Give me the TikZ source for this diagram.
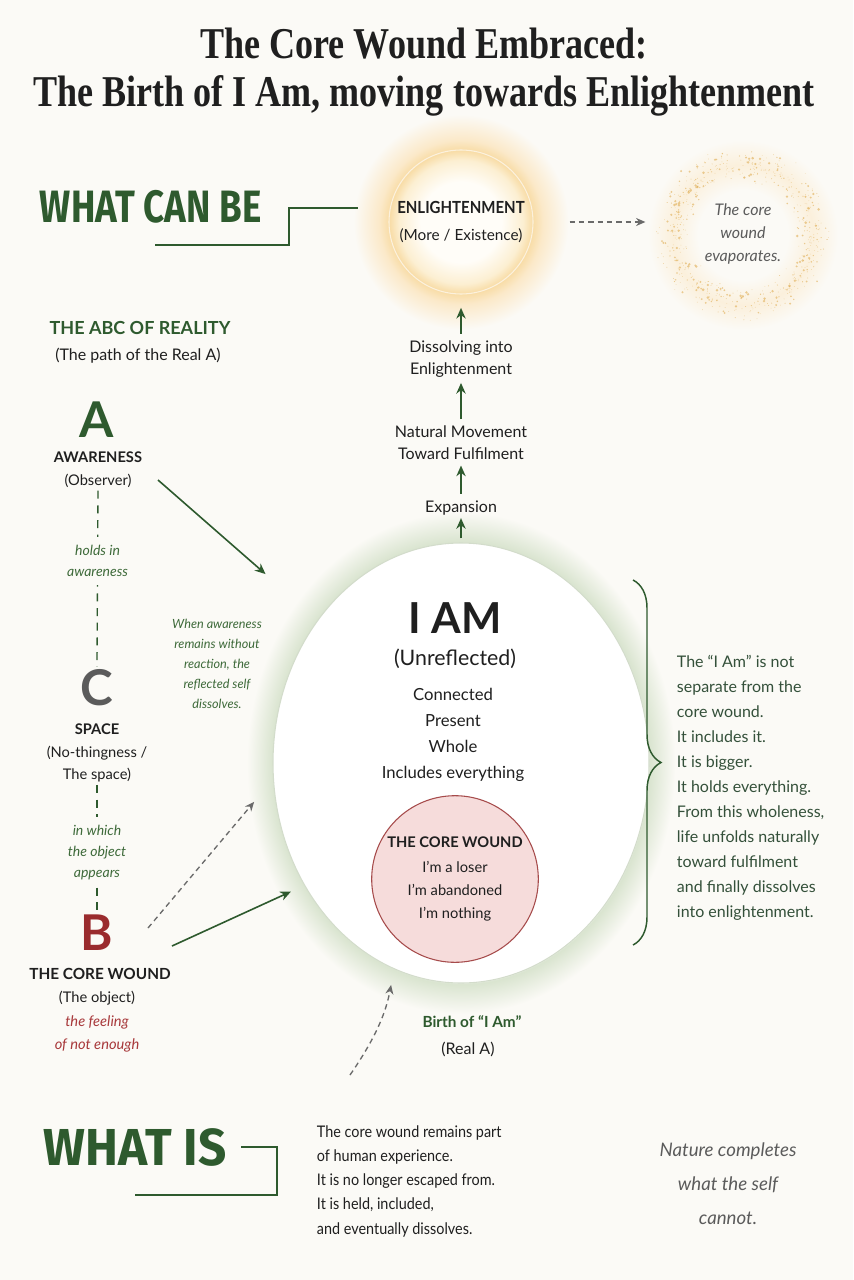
\documentclass[tikz,border=0pt]{standalone}
\usepackage{fontspec}
\setmainfont{Lato}
\newfontfamily\titlefont[FakeStretch=0.82]{Liberation Serif}
\newfontfamily\headfont[FakeStretch=0.81]{Fira Sans}
\newfontfamily\wideheadfont[FakeStretch=0.95]{Fira Sans}
\newfontfamily\narrowfont[FakeStretch=0.9]{Lato}
\usetikzlibrary{arrows.meta,positioning,shapes.geometric,decorations.pathreplacing}

\definecolor{bg}{HTML}{FBFAF6}
\definecolor{ink}{HTML}{1F1F1F}
\definecolor{leaf}{HTML}{2E5A2E}
\definecolor{leafsoft}{HTML}{3E6A3A}
\definecolor{leafnote}{HTML}{34503A}
\definecolor{leafline}{HTML}{D3DCCB}
\definecolor{leafhaze}{HTML}{D9E4CF}
\definecolor{wound}{HTML}{9A2B2E}
\definecolor{woundsoft}{HTML}{A8393B}
\definecolor{corefill}{HTML}{F6DCDB}
\definecolor{coreline}{HTML}{A64B4B}
\definecolor{stone}{HTML}{5B5B5B}
\definecolor{ash}{HTML}{6A6A6A}
\definecolor{sand}{HTML}{E0AE55}
\definecolor{suncore}{HTML}{FFFDF8}
\definecolor{sunmid}{HTML}{FCEFD2}
\definecolor{sunring}{HTML}{F8DCA6}
\definecolor{sunhalo}{HTML}{FBE9C9}
\definecolor{sunedge}{HTML}{FCF1DD}
\definecolor{hazering}{HTML}{FBF0DC}

\pgfdeclareradialshading{sunglow}{\pgfpoint{0bp}{0bp}}{color(0bp)=(suncore); color(9bp)=(suncore); color(13.8bp)=(sunmid); color(16bp)=(sunring); color(18.3bp)=(sunhalo); color(24bp)=(bg); color(50bp)=(bg)}
\pgfdeclareradialshading{leafglow}{\pgfpoint{0bp}{0bp}}{color(0bp)=(white); color(21.6bp)=(white); color(21.8bp)=(leafhaze); color(24.8bp)=(bg); color(50bp)=(bg)}
\pgfdeclareradialshading{haze}{\pgfpoint{0bp}{0bp}}{color(0bp)=(bg); color(10.7bp)=(bg); color(16.7bp)=(hazering); color(22.6bp)=(bg); color(50bp)=(bg)}

\begin{document}
\begin{tikzpicture}[
    x=0.75pt, y=-0.75pt,
    every node/.style={inner sep=2pt, text=ink},
    heading/.style={font=\headfont\bfseries\fontsize{34}{34}\selectfont, text=leaf},
    bigletter/.style={font=\bfseries\fontsize{37}{37}\selectfont},
    tagline/.style={font=\bfseries\fontsize{11}{16}\selectfont, align=center},
    gloss/.style={font=\fontsize{11}{16.5}\selectfont, align=center},
    remark/.style={font=\itshape\fontsize{10.5}{16}\selectfont, text=leafsoft, align=center},
    stack/.style={font=\fontsize{12}{16.5}\selectfont, align=center},
    frame/.style={draw=leaf, line width=1.2pt},
    spine/.style={draw=leaf, line width=1pt, dash pattern=on 6pt off 5pt},
    leafarrow/.style={draw=leaf, line width=1.2pt, -{Stealth[length=8pt,width=7pt]}},
    ashdash/.style={draw=ash, line width=1pt, dash pattern=on 4pt off 3pt, -{Stealth[length=7pt,width=6pt]}}
]
\fill[bg] (0,0) rectangle (853,1280);
\useasboundingbox (0,0) rectangle (853,1280);

% soft glows behind the shapes
\shade[shading=sunglow] (461,222) circle (112);
\shade[shading=haze] (743,235) circle (105);
\shade[shading=leafglow] (461,763) ellipse (216 and 253);

\node[font=\titlefont\bfseries\fontsize{33}{36}\selectfont, align=center] (title) at (424,72)
    {The Core Wound Embraced:\\The Birth of I Am, moving towards Enlightenment};

% what can be
\node[circle, minimum size=108pt, draw=sunedge, line width=0.8pt, align=center,
    font=\fontsize{11.5}{20}\selectfont] (enl) at (461,222)
    {{\narrowfont\bfseries\fontsize{12.5}{20}\selectfont ENLIGHTENMENT}\\(More / Existence)};
\node[heading, anchor=west] (whatcanbe) at (37,207) {WHAT CAN BE};
\coordinate (canbeFoot) at (155,245);
\coordinate (canbeStep) at (289,208);
\draw[frame] (canbeFoot) -| (canbeStep) -- ([xshift=-23pt]enl.west |- canbeStep);

\node[circle, minimum size=112pt, align=center, text=stone,
    font=\itshape\fontsize{12}{17}\selectfont] (evap) at (743,234) {The core\\wound\\evaporates.};
\pgfmathsetseed{42}
\foreach \k in {1,...,650}{
  \pgfmathsetmacro{\ang}{360*rnd}
  \pgfmathsetmacro{\rad}{70+19*(rnd+rnd-1)}
  \pgfmathsetmacro{\u}{rnd}
  \pgfmathsetmacro{\dotr}{0.35+1.1*\u*\u*\u*\u}
  \fill[sand, opacity=0.6] ([shift={(\ang:\rad)}]evap.center) circle (\dotr);
}
\draw[ashdash, shorten <=27pt, shorten >=17pt] (enl.east) -- (enl.east -| evap.west);

% the path upwards
\node[stack] (dissolving) at (461,359) {Dissolving into\\Enlightenment};
\node[stack] (natural) at (461,443) {Natural Movement\\Toward Fulfilment};
\node[stack] (expansion) at (461,508) {Expansion};

% I am
\node[ellipse, minimum width=282pt, minimum height=330pt, draw=leafline, line width=0.8pt, fill=white] (iam) at (461,763) {};
\node[font=\bfseries\fontsize{32}{32}\selectfont] (iamtitle) at (455,618) {I AM};
\node[font=\fontsize{16}{16}\selectfont] (unrefl) at (455,659) {(Unreflected)};
\node[font=\fontsize{12.5}{19.5}\selectfont, align=center] (qualities) at (453,735)
    {Connected\\Present\\Whole\\Includes everything};
\node[circle, minimum size=124.5pt, fill=corefill, draw=coreline, line width=0.8pt, align=center,
    font=\fontsize{11}{17.3}\selectfont] (core) at (455,879)
    {{\bfseries THE CORE WOUND}\\[2pt]I’m a loser\\I’m abandoned\\I’m nothing};

\draw[leafarrow, shorten <=3pt] (iam.north) -- (expansion);
\draw[leafarrow, shorten <=3pt, shorten >=2pt] (expansion) -- (natural);
\draw[leafarrow, shorten <=3pt, shorten >=2pt] (natural) -- (dissolving);
\draw[leafarrow, shorten <=3pt, shorten >=10pt] (dissolving) -- (enl.south);

% the abc of reality
\node[font=\bfseries\fontsize{13.5}{16}\selectfont, text=leaf] (abc) at (140,328) {THE ABC OF REALITY};
\node[font=\fontsize{12}{16}\selectfont] (abcsub) at (138,356) {(The path of the Real A)};

\node[bigletter, text=leaf] (letA) at (97,420) {A};
\node[tagline] (aware) at (98,457) {AWARENESS};
\node[gloss] (observer) at (98,481) {(Observer)};

\node[bigletter, text=stone] (letC) at (97,688) {C};
\node[tagline] (space) at (97,729) {SPACE};
\node[gloss] (spacesub) at (97,764) {(No-thingness /\\The space)};

\node[bigletter, text=wound] (letB) at (97,933) {B};
\node[tagline, font=\bfseries\fontsize{11.5}{16}\selectfont] (woundtag) at (100,974) {THE CORE WOUND};
\node[gloss] (object) at (97,998) {(The object)};
\node[remark, text=woundsoft, font=\itshape\fontsize{11}{17}\selectfont] (feeling) at (97,1034) {the feeling\\of not enough};

\draw[spine] (observer.south) -- node[pos=0.4, fill=bg, inner sep=6pt, remark] (holds) {holds in\\awareness} (letC.north);
\draw[spine] (spacesub.south) -- node[pos=0.53, fill=bg, inner sep=6pt, remark, font=\itshape\fontsize{10.5}{15.5}\selectfont] (inwhich) {in which\\the object\\appears} (letB.north);

\node[remark, font=\itshape\fontsize{9.5}{15}\selectfont] (reflect) at (217,664)
    {When awareness\\remains without\\reaction, the\\reflected self\\dissolves.};

\coordinate (aTail) at (158,480);
\coordinate (dTail) at (148,928);
\coordinate (bTail) at (172,946);
\draw[leafarrow, shorten >=52pt] (aTail) -- (iam.135);
\draw[ashdash, shorten >=22pt] (dTail) -- (iam.185);
\draw[leafarrow, shorten >=11pt] (bTail) -- (iam.218);

% birth of i am
\node[font=\bfseries\fontsize{11.5}{16}\selectfont, text=leaf] (birth) at (472,1022) {Birth of “I Am”};
\node[font=\fontsize{12}{16}\selectfont] (realA) at (468,1049) {(Real A)};
\coordinate (birthTail) at (350,1075);
\draw[ashdash, shorten >=12pt] (birthTail) to[bend right=12] (iam.252);

% brace note
\draw[leaf, line width=1.1pt, decorate, decoration={brace, amplitude=21pt}] (633,580) -- (633,945);
\node[anchor=west, align=left, text=leafnote, font=\fontsize{12}{18.75}\selectfont] (braceNote) at (674,788)
    {The “I Am” is not\\separate from the\\core wound.\\It includes it.\\It is bigger.\\It holds everything.\\From this wholeness,\\life unfolds naturally\\toward fulfilment\\and finally dissolves\\into enlightenment.};

% what is
\node[heading, anchor=west, font=\wideheadfont\bfseries\fontsize{39}{39}\selectfont] (whatis) at (41,1147) {WHAT IS};
\coordinate (isCorner) at (277,1195);
\coordinate (isFoot) at (135,1195);
\draw[frame, line width=1.1pt] ([xshift=9pt]whatis.east) -| (isCorner) -- (isFoot);
\node[anchor=west, align=left, font=\narrowfont\fontsize{12}{18.2}\selectfont] (whatisnote) at (314,1181)
    {The core wound remains part\\of human experience.\\It is no longer escaped from.\\It is held, included,\\and eventually dissolves.};

\node[align=center, text=stone, font=\itshape\fontsize{14}{25.5}\selectfont] (nature) at (728,1184)
    {Nature completes\\what the self\\cannot.};
\end{tikzpicture}
\end{document}
